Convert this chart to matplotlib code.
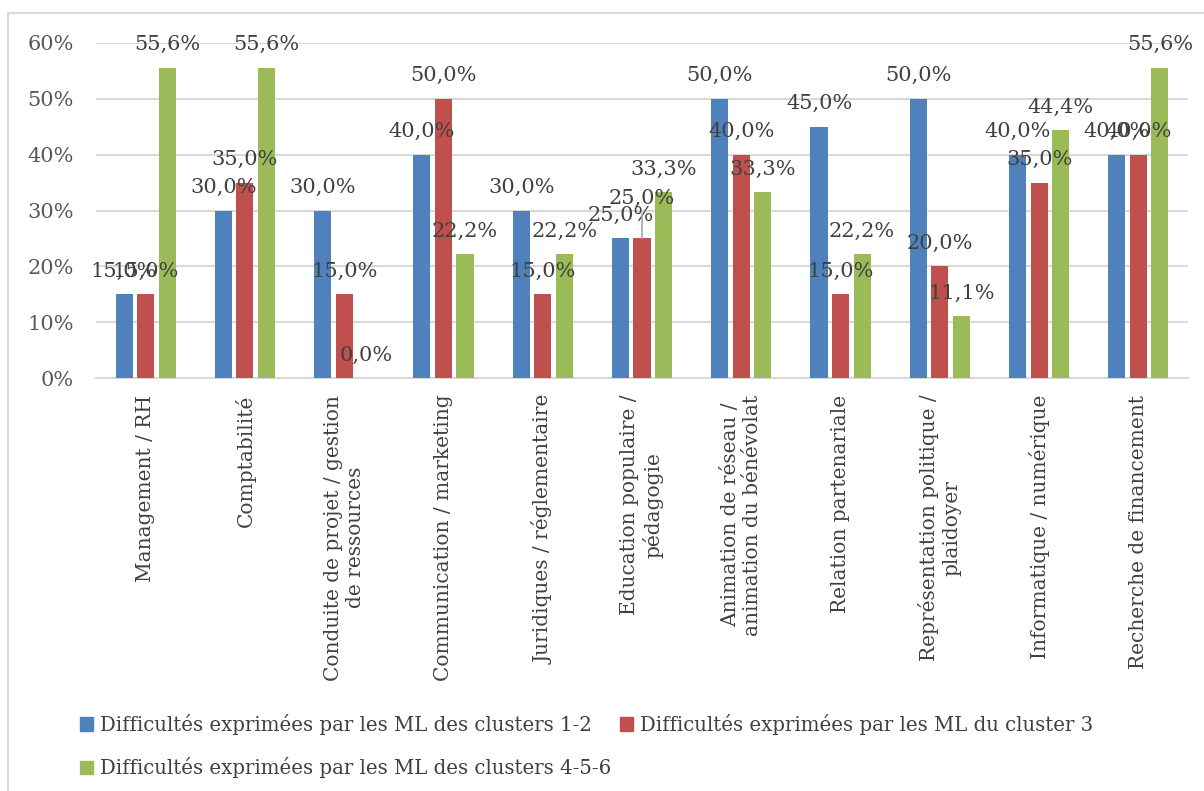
import matplotlib
matplotlib.use("Agg")
import matplotlib.pyplot as plt
import numpy as np
from matplotlib.patches import Rectangle, Patch
from matplotlib.ticker import FuncFormatter

categories = [
    "Management / RH",
    "Comptabilité",
    "Conduite de projet / gestion\nde ressources",
    "Communication / marketing",
    "Juridiques / réglementaire",
    "Education populaire /\npédagogie",
    "Animation de réseau /\nanimation du bénévolat",
    "Relation partenariale",
    "Représentation politique /\nplaidoyer",
    "Informatique / numérique",
    "Recherche de financement",
]
series_names = [
    "Difficultés exprimées par les ML des clusters 1-2",
    "Difficultés exprimées par les ML du cluster 3",
    "Difficultés exprimées par les ML des clusters 4-5-6",
]
clusters_1_2 = [15.0, 30.0, 30.0, 40.0, 30.0, 25.0, 50.0, 45.0, 50.0, 40.0, 40.0]
cluster_3 = [15.0, 35.0, 15.0, 50.0, 15.0, 25.0, 40.0, 15.0, 20.0, 35.0, 40.0]
clusters_4_5_6 = [55.6, 55.6, 0.0, 22.2, 22.2, 33.3, 33.3, 22.2, 11.1, 44.4, 55.6]
yticks = [0, 10, 20, 30, 40, 50, 60]

colors = ["#4F81BD", "#C0504D", "#9BBB59"]
FONT = "DejaVu Serif"

fig = plt.figure(figsize=(12.04, 7.91), dpi=100)
ax = fig.add_axes([96 / 1204, 1 - 378 / 791, (1188 - 96) / 1204, (378 - 43) / 791])

x = np.arange(len(categories))
width = 0.172
pitch = 0.217
series = [clusters_1_2, cluster_3, clusters_4_5_6]
for i, (vals, col) in enumerate(zip(series, colors)):
    ax.bar(x + (i - 1) * pitch, [v / 100 for v in vals], width=width, color=col,
           zorder=3, label=series_names[i])

# data labels
for i, vals in enumerate(series):
    for j, v in enumerate(vals):
        xp = x[j] + (i - 1) * pitch
        txt = f"{v:.1f}%".replace(".", ",")
        if j == 5 and i == 1:
            ax.annotate(txt, xy=(xp, v / 100), xytext=(0, 40),
                        textcoords="offset pixels", ha="center", va="center",
                        fontsize=15, family=FONT, color="#404040", zorder=5,
                        arrowprops=dict(arrowstyle="-", color="#A6A6A6", lw=1.2,
                                        shrinkA=2, shrinkB=0))
        else:
            ax.annotate(txt, xy=(xp, v / 100), xytext=(0, 23),
                        textcoords="offset pixels", ha="center", va="center",
                        fontsize=15, family=FONT, color="#404040", zorder=5)

ax.set_xlim(-0.5, len(categories) - 0.5)
ax.set_ylim(0, 0.6)
ax.set_yticks([t / 100 for t in yticks])
ax.yaxis.set_major_formatter(FuncFormatter(lambda v, p: f"{v * 100:.0f}%"))
ax.grid(axis="y", color="#D9D9D9", lw=1.5, zorder=0)
for s in ["top", "right", "left"]:
    ax.spines[s].set_visible(False)
ax.spines["bottom"].set_color("#D9D9D9")
ax.spines["bottom"].set_linewidth(1.5)
ax.tick_params(axis="y", length=0, pad=16, labelsize=15, labelcolor="#595959")
ax.tick_params(axis="x", length=0, pad=12)
for lab in ax.get_yticklabels():
    lab.set_family(FONT)
ax.set_xticks(x)
ax.set_xticklabels(categories, rotation=90, ha="center", va="top",
                   multialignment="center", fontsize=14.5, family=FONT, color="#404040")

# legend: row-major order (1, 2) / (3)
handles = [Patch(color=c) for c in colors]
order = [0, 2, 1]
leg = fig.legend([handles[k] for k in order], [series_names[k] for k in order],
                 ncol=2, loc="upper left", bbox_to_anchor=(80 / 1204, 1 - 714 / 791),
                 frameon=False, handlelength=0.66, handleheight=0.66, handletextpad=0.35,
                 columnspacing=0.46, labelspacing=1.12, borderaxespad=0, borderpad=0,
                 prop={"family": FONT, "size": 14.2})
for t in leg.get_texts():
    t.set_color("#404040")

# outer chart border (cropped at right/bottom)
fig.patches.append(Rectangle((8 / 1204, -0.2), 1.2, 1.2 - 13 / 791, transform=fig.transFigure,
                             fill=False, edgecolor="#D9D9D9", lw=1.5, zorder=0))

fig.savefig("out.png", dpi=100)
